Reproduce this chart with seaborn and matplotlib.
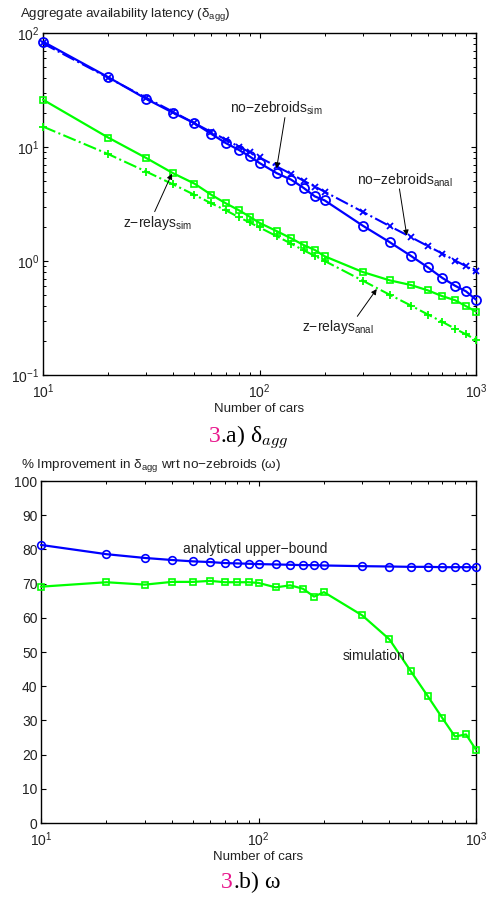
import matplotlib
matplotlib.use("Agg")
import matplotlib.pyplot as plt
import seaborn as sns
import pandas as pd
from matplotlib.ticker import LogLocator, FixedLocator, NullFormatter, LogFormatterSciNotation

# ---------------- data ----------------
cars = [10, 20, 30, 40, 50, 60, 70, 80, 90, 100, 120, 140, 160, 180, 200,
        300, 400, 500, 600, 700, 800, 900, 1000]

nozeb_sim = [84.0, 41.0, 26.4, 19.9, 16.2, 13.0, 10.8, 9.47, 8.27, 7.24, 5.90, 5.17,
             4.37, 3.69, 3.40, 2.04, 1.46, 1.11, 0.878, 0.709, 0.607, 0.541, 0.458]
nozeb_anal = [81.0, 40.5, 27.0, 20.3, 16.2, 13.5, 11.6, 10.1, 9.0, 8.1, 6.75, 5.80,
              5.05, 4.50, 4.05, 2.70, 2.02, 1.62, 1.35, 1.16, 1.01, 0.90, 0.81]
zrelay_sim = [26.0, 12.1, 8.0, 5.87, 4.78, 3.80, 3.20, 2.80, 2.45, 2.16, 1.83, 1.58,
              1.38, 1.25, 1.10, 0.80, 0.676, 0.616, 0.552, 0.491, 0.453, 0.401, 0.360]
zrelay_anal = [15.1, 8.67, 6.08, 4.69, 3.81, 3.20, 2.78, 2.43, 2.18, 1.97, 1.65, 1.42,
               1.24, 1.11, 1.00, 0.672, 0.505, 0.407, 0.339, 0.292, 0.255, 0.227, 0.204]

omega_anal = [81.3, 78.6, 77.5, 76.9, 76.5, 76.3, 76.0, 75.9, 75.8, 75.7, 75.6, 75.5,
              75.4, 75.4, 75.3, 75.1, 75.0, 74.9, 74.9, 74.8, 74.8, 74.8, 74.8]
omega_sim = [69.1, 70.4, 69.7, 70.5, 70.5, 70.8, 70.4, 70.4, 70.4, 70.2, 68.9, 69.5,
             68.5, 66.2, 67.5, 60.7, 53.7, 44.5, 37.1, 30.7, 25.3, 25.9, 21.4]

# ---------------- style ----------------
sns.set_style("ticks")
plt.rcParams['font.family'] = ['Liberation Sans', 'DejaVu Sans']
plt.rcParams['mathtext.default'] = 'regular'
plt.rcParams['axes.linewidth'] = 1.0
plt.rcParams['axes.edgecolor'] = 'black'
for a in ('xtick', 'ytick'):
    plt.rcParams[f'{a}.direction'] = 'in'
    plt.rcParams[f'{a}.major.size'] = 3.5
    plt.rcParams[f'{a}.minor.size'] = 2.0
    plt.rcParams[f'{a}.major.width'] = 0.8
    plt.rcParams[f'{a}.minor.width'] = 0.7
    plt.rcParams[f'{a}.color'] = 'black'
    plt.rcParams[f'{a}.labelsize'] = 10
plt.rcParams['xtick.top'] = True
plt.rcParams['ytick.right'] = True

TXT = '#222222'
W, H = 497, 897
fig = plt.figure(figsize=(W / 100, H / 100), dpi=100)
ax1 = fig.add_axes([43 / W, 1 - 375 / H, (476 - 43) / W, (375 - 33) / H])
ax2 = fig.add_axes([41 / W, 1 - 823 / H, (476 - 41) / W, (823 - 481) / H])

BLUE = (0, 0, 1)
GREEN = (0, 1, 0)


def draw(ax, y, color, ls, marker, ms, mew=1.2, lw=1.6):
    df = pd.DataFrame({'cars': cars, 'val': y})
    sns.lineplot(data=df, x='cars', y='val', ax=ax, color=color, linestyle=ls,
                 marker=marker, markersize=ms, markerfacecolor='none',
                 markeredgecolor=color, markeredgewidth=mew, linewidth=lw,
                 errorbar=None, clip_on=False, zorder=3)


# ---------------- top panel ----------------
draw(ax1, nozeb_anal, BLUE, '-.', 'x', 4.5, mew=1.3, lw=1.5)
draw(ax1, nozeb_sim, BLUE, '-', 'o', 6.5, mew=1.3, lw=1.6)
draw(ax1, zrelay_anal, GREEN, '-.', '+', 5.5, mew=1.3, lw=1.5)
draw(ax1, zrelay_sim, GREEN, '-', 's', 4.5, mew=1.2, lw=1.6)

ax1.set_xscale('log')
ax1.set_yscale('log')
ax1.set_xlim(10, 1000)
ax1.set_ylim(0.1, 100)
ax1.set_xlabel('Number of cars', fontsize=9.5, color=TXT, labelpad=1)
ax1.set_ylabel('')

arrow = dict(arrowstyle='-|>', color='black', lw=0.7, mutation_scale=8,
             shrinkA=0, shrinkB=0)
ann = dict(fontsize=10, color=TXT, va='baseline', ha='left')

ax1.text(72.9, 20.0, 'no\u2212zebroids$_{sim}$', **ann)
ax1.annotate('', xy=(120, 6.5), xytext=(131, 18.1), arrowprops=arrow)
ax1.text(282, 4.67, 'no\u2212zebroids$_{anal}$', **ann)
ax1.annotate('', xy=(479, 1.67), xytext=(443, 4.29), arrowprops=arrow)
ax1.text(23.4, 2.0, 'z\u2212relays$_{sim}$', **ann)
ax1.annotate('', xy=(39.4, 5.84), xytext=(32.8, 2.71), arrowprops=arrow)
ax1.text(156.6, 0.245, 'z\u2212relays$_{anal}$', **ann)
ax1.annotate('', xy=(348, 0.568), xytext=(283, 0.327), arrowprops=arrow)

# ---------------- bottom panel ----------------
draw(ax2, omega_anal, BLUE, '-', 'o', 5.5, mew=1.2, lw=1.6)
draw(ax2, omega_sim, GREEN, '-', 's', 4.5, mew=1.2, lw=1.6)

ax2.set_xscale('log')
ax2.set_xlim(10, 1000)
ax2.set_ylim(0, 100)
ax2.yaxis.set_major_locator(FixedLocator(list(range(0, 101, 10))))
ax2.set_xlabel('Number of cars', fontsize=9.5, color=TXT, labelpad=1)
ax2.set_ylabel('')
ax2.text(45.0, 78.9, 'analytical upper\u2212bound', **ann)
ax2.text(245, 47.7, 'simulation', **ann)

for ax in (ax1, ax2):
    ax.xaxis.set_major_locator(LogLocator(base=10, numticks=10))
    ax.xaxis.set_minor_locator(LogLocator(base=10, subs=range(2, 10), numticks=20))
    ax.xaxis.set_minor_formatter(NullFormatter())
    ax.xaxis.set_major_formatter(LogFormatterSciNotation())
    ax.tick_params(axis='x', which='both', pad=5.5, labelcolor=TXT)
    ax.tick_params(axis='y', which='both', pad=2.5, labelcolor=TXT)
    ax.tick_params(which='both', top=True, right=True)
    for s in ax.spines.values():
        s.set_visible(True)
        s.set_linewidth(1.0)
    ax.set_facecolor('white')

ax1.yaxis.set_major_locator(LogLocator(base=10, numticks=10))
ax1.yaxis.set_minor_locator(LogLocator(base=10, subs=range(2, 10), numticks=20))
ax1.yaxis.set_minor_formatter(NullFormatter())

# ---------------- titles / captions ----------------
t1 = fig.text(20 / W, 1 - 16.7 / H, 'Aggregate availability latency (\u03b4$_{agg}$)',
              fontsize=9.5, color=TXT, ha='left', va='baseline')
t2 = fig.text(21 / W, 1 - 468 / H,
              '% Improvement in \u03b4$_{agg}$ wrt no\u2212zebroids (\u03c9)',
              fontsize=9.5, color=TXT, ha='left', va='baseline')

# fit title widths to the reference's text extents (pixels)
renderer = fig.canvas.get_renderer()
for t, target in ((t1, 212.0), (t2, 261.0)):
    w = t.get_window_extent(renderer=renderer).width
    if w > 0:
        t.set_fontsize(max(8.0, min(11.5, t.get_fontsize() * target / w)))

PINK = '#e8168c'
cap = dict(fontsize=17, va='baseline', family=['Liberation Serif', 'DejaVu Serif'])
fig.text(220.5 / W, 1 - 441.5 / H, '3', color=PINK, ha='right', **cap)
fig.text(220.5 / W, 1 - 441.5 / H, '.a) $\\delta_{\\mathit{agg}}$', color='black',
         ha='left', math_fontfamily='cm', **cap)
fig.text(233 / W, 1 - 888 / H, '3', color=PINK, ha='right', **cap)
fig.text(233 / W, 1 - 888 / H, '.b) $\\omega$', color='black',
         ha='left', math_fontfamily='cm', **cap)

fig.savefig('out.png', dpi=100, facecolor='white')
